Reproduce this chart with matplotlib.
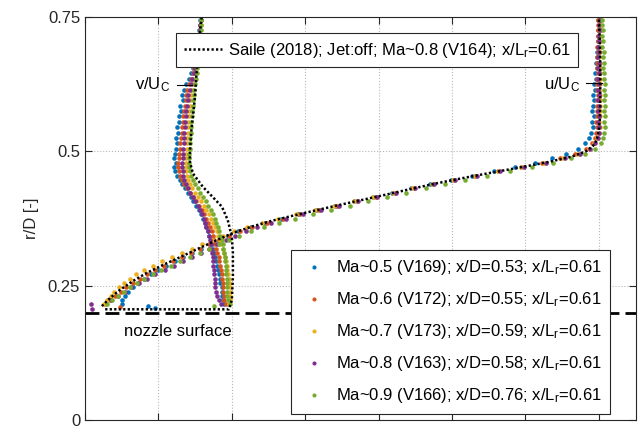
import numpy as np
import matplotlib.pyplot as plt

plt.rcParams['font.family'] = ['Liberation Sans', 'DejaVu Sans']
plt.rcParams['mathtext.fontset'] = 'custom'
plt.rcParams['mathtext.rm'] = 'Liberation Sans'
plt.rcParams['mathtext.it'] = 'Liberation Sans:italic'

# radial positions of the PIV data (r/D)
r_grid = [0.215, 0.223, 0.231, 0.239, 0.247, 0.255, 0.263, 0.271, 0.279, 0.287,
          0.295, 0.303, 0.311, 0.319, 0.327, 0.335, 0.343, 0.351, 0.359, 0.367,
          0.375, 0.383, 0.391, 0.399, 0.407, 0.415, 0.423, 0.431, 0.439, 0.447,
          0.455, 0.463, 0.471, 0.479, 0.487, 0.495, 0.505, 0.515, 0.525, 0.535,
          0.545, 0.555, 0.565, 0.575, 0.585, 0.595, 0.605, 0.615, 0.625, 0.635,
          0.645, 0.655, 0.665, 0.675, 0.685, 0.695, 0.705, 0.715, 0.725, 0.735, 0.745]

# u/Uc profiles
u_ma05 = [-0.300, -0.298, -0.290, -0.282, -0.270, -0.255, -0.238, -0.220, -0.200, -0.178,
          -0.155, -0.132, -0.108, -0.084, -0.060, -0.035, -0.010, 0.018, 0.052, 0.090,
          0.133, 0.180, 0.230, 0.282, 0.334, 0.386, 0.437, 0.488, 0.540, 0.596,
          0.654, 0.714, 0.772, 0.826, 0.872, 0.910, 0.944, 0.963, 0.974, 0.980,
          0.984, 0.982, 0.986, 0.981, 0.985, 0.988, 0.984, 0.990, 0.987, 0.992,
          0.989, 0.994, 0.992, 0.996, 0.995, 0.998, 0.997, 0.999, 0.998, 1.000, 0.999]
u_ma06 = [-0.345, -0.332, -0.318, -0.303, -0.287, -0.270, -0.251, -0.231, -0.209, -0.186,
          -0.161, -0.136, -0.111, -0.086, -0.061, -0.035, -0.008, 0.022, 0.056, 0.095,
          0.139, 0.187, 0.237, 0.288, 0.340, 0.392, 0.444, 0.496, 0.549, 0.605,
          0.664, 0.726, 0.787, 0.845, 0.895, 0.935, 0.965, 0.981, 0.989, 0.992,
          0.994, 0.993, 0.995, 0.994, 0.996, 0.995, 0.997, 0.994, 0.996, 0.995,
          0.997, 0.994, 0.996, 0.995, 0.997, 0.996, 0.998, 0.997, 0.999, 0.998, 0.999]
u_ma07 = [-0.348, -0.340, -0.330, -0.320, -0.308, -0.294, -0.278, -0.260, -0.239, -0.215,
          -0.190, -0.163, -0.136, -0.109, -0.082, -0.054, -0.025, 0.006, 0.041, 0.081,
          0.126, 0.175, 0.226, 0.279, 0.332, 0.385, 0.438, 0.491, 0.545, 0.602,
          0.662, 0.725, 0.789, 0.850, 0.902, 0.942, 0.972, 0.988, 0.996, 1.000,
          1.002, 1.001, 1.003, 1.002, 1.004, 1.002, 1.003, 1.001, 1.003, 1.002,
          1.004, 1.002, 1.003, 1.001, 1.003, 1.002, 1.004, 1.003, 1.005, 1.004, 1.006]
u_ma08 = [-0.385, -0.330, -0.310, -0.292, -0.274, -0.254, -0.232, -0.208, -0.183, -0.158,
          -0.133, -0.108, -0.085, -0.062, -0.040, -0.016, 0.010, 0.038, 0.070, 0.106,
          0.147, 0.193, 0.242, 0.292, 0.343, 0.395, 0.447, 0.499, 0.552, 0.609,
          0.669, 0.731, 0.795, 0.856, 0.908, 0.948, 0.976, 0.990, 0.997, 1.000,
          1.001, 0.999, 1.001, 0.998, 1.000, 0.999, 1.001, 0.998, 1.000, 0.999,
          1.001, 0.999, 1.000, 0.998, 1.000, 0.999, 1.001, 1.000, 1.002, 1.001, 1.003]
u_ma09 = [-0.340, -0.326, -0.310, -0.294, -0.277, -0.258, -0.238, -0.216, -0.192, -0.166,
          -0.140, -0.113, -0.087, -0.061, -0.035, -0.008, 0.020, 0.052, 0.088, 0.128,
          0.172, 0.220, 0.270, 0.321, 0.372, 0.424, 0.476, 0.528, 0.580, 0.636,
          0.695, 0.757, 0.819, 0.876, 0.924, 0.962, 0.990, 1.005, 1.012, 1.015,
          1.016, 1.015, 1.018, 1.014, 1.017, 1.015, 1.018, 1.014, 1.016, 1.013,
          1.015, 1.012, 1.014, 1.011, 1.013, 1.010, 1.012, 1.009, 1.011, 1.008, 1.010]

# v/Uc profiles
v_ma05 = [-0.020, -0.024, -0.026, -0.028, -0.028, -0.031, -0.033, -0.036, -0.038, -0.041,
          -0.044, -0.046, -0.048, -0.051, -0.054, -0.058, -0.062, -0.065, -0.069, -0.074,
          -0.079, -0.084, -0.090, -0.098, -0.105, -0.112, -0.120, -0.128, -0.136, -0.142,
          -0.150, -0.155, -0.157, -0.152, -0.158, -0.155, -0.152, -0.150, -0.152, -0.147,
          -0.149, -0.143, -0.145, -0.139, -0.141, -0.134, -0.137, -0.130, -0.125, -0.117,
          -0.111, -0.106, -0.102, -0.099, -0.096, -0.094, -0.092, -0.090, -0.089, -0.087, -0.086]
v_ma06 = [-0.015, -0.020, -0.022, -0.023, -0.024, -0.025, -0.026, -0.028, -0.030, -0.032,
          -0.034, -0.036, -0.039, -0.042, -0.045, -0.048, -0.052, -0.055, -0.059, -0.064,
          -0.069, -0.075, -0.082, -0.089, -0.097, -0.105, -0.113, -0.121, -0.129, -0.136,
          -0.141, -0.145, -0.147, -0.147, -0.145, -0.143, -0.142, -0.140, -0.139, -0.137,
          -0.136, -0.134, -0.132, -0.130, -0.128, -0.126, -0.124, -0.121, -0.117, -0.112,
          -0.107, -0.103, -0.099, -0.096, -0.094, -0.092, -0.090, -0.088, -0.087, -0.086, -0.085]
v_ma07 = [-0.008, -0.006, -0.005, -0.005, -0.006, -0.007, -0.008, -0.010, -0.012, -0.014,
          -0.016, -0.019, -0.022, -0.025, -0.029, -0.033, -0.037, -0.041, -0.046, -0.051,
          -0.057, -0.063, -0.070, -0.077, -0.085, -0.093, -0.101, -0.108, -0.114, -0.119,
          -0.123, -0.125, -0.126, -0.126, -0.125, -0.124, -0.123, -0.122, -0.121, -0.120,
          -0.119, -0.118, -0.117, -0.116, -0.115, -0.113, -0.111, -0.109, -0.107, -0.104,
          -0.101, -0.098, -0.096, -0.094, -0.092, -0.090, -0.088, -0.087, -0.086, -0.085, -0.083]
v_ma08 = [-0.030, -0.035, -0.040, -0.043, -0.045, -0.046, -0.047, -0.048, -0.049, -0.050,
          -0.051, -0.052, -0.054, -0.056, -0.058, -0.060, -0.063, -0.066, -0.069, -0.073,
          -0.077, -0.082, -0.087, -0.093, -0.099, -0.106, -0.113, -0.119, -0.125, -0.129,
          -0.132, -0.134, -0.135, -0.135, -0.134, -0.133, -0.132, -0.131, -0.130, -0.129,
          -0.128, -0.127, -0.126, -0.124, -0.122, -0.120, -0.118, -0.115, -0.112, -0.108,
          -0.104, -0.101, -0.098, -0.096, -0.094, -0.092, -0.090, -0.088, -0.087, -0.086, -0.085]
v_ma09 = [-0.005, -0.010, -0.012, -0.013, -0.013, -0.014, -0.014, -0.015, -0.016, -0.017,
          -0.018, -0.019, -0.021, -0.023, -0.025, -0.028, -0.031, -0.034, -0.038, -0.042,
          -0.047, -0.052, -0.058, -0.064, -0.071, -0.078, -0.086, -0.093, -0.100, -0.106,
          -0.111, -0.114, -0.116, -0.117, -0.117, -0.116, -0.115, -0.114, -0.113, -0.112,
          -0.111, -0.110, -0.109, -0.108, -0.107, -0.106, -0.104, -0.102, -0.100, -0.098,
          -0.096, -0.094, -0.092, -0.090, -0.089, -0.088, -0.087, -0.086, -0.085, -0.084, -0.083]

# stray points close to the wall (x, r/D)
stray_x = [[-0.229, -0.210], [-0.305], [], [-0.381], [-0.049]]
stray_r = [[0.212, 0.208], [0.210], [], [0.207], [0.212]]

# Saile (2018), jet off
saile_u_r = [0.212, 0.225, 0.242, 0.260, 0.274, 0.290, 0.303, 0.320, 0.335, 0.348,
             0.360, 0.370, 0.380, 0.390, 0.400, 0.410, 0.420, 0.430, 0.440, 0.450,
             0.460, 0.470, 0.480, 0.490, 0.500, 0.510, 0.520, 0.540, 0.560, 0.600,
             0.650, 0.700, 0.750]
saile_u_x = [-0.354, -0.335, -0.305, -0.266, -0.231, -0.183, -0.141, -0.088, -0.040, 0.003,
             0.055, 0.105, 0.165, 0.228, 0.292, 0.358, 0.424, 0.488, 0.555, 0.628,
             0.705, 0.785, 0.862, 0.925, 0.965, 0.984, 0.994, 1.000, 1.003, 1.004,
             1.004, 1.003, 1.000]
saile_v_r = [0.206, 0.206, 0.223, 0.267, 0.311, 0.341, 0.372, 0.397, 0.415, 0.434,
             0.459, 0.480, 0.502, 0.540, 0.596, 0.657, 0.700, 0.750]
saile_v_x = [-0.345, -0.008, 0.000, 0.003, 0.003, 0.000, -0.011, -0.027, -0.052, -0.079,
             -0.106, -0.114, -0.114, -0.110, -0.101, -0.095, -0.091, -0.082]

labels = ['Ma~0.5 (V169); x/D=0.53; $\\mathregular{x/L_r}$=0.61',
          'Ma~0.6 (V172); x/D=0.55; $\\mathregular{x/L_r}$=0.61',
          'Ma~0.7 (V173); x/D=0.59; $\\mathregular{x/L_r}$=0.61',
          'Ma~0.8 (V163); x/D=0.58; $\\mathregular{x/L_r}$=0.61',
          'Ma~0.9 (V166); x/D=0.76; $\\mathregular{x/L_r}$=0.61']
colors = ['#0072BD', '#D95319', '#EDB120', '#7E2F8E', '#77AC30']
u_all = [u_ma05, u_ma06, u_ma07, u_ma08, u_ma09]
v_all = [v_ma05, v_ma06, v_ma07, v_ma08, v_ma09]

fig = plt.figure(figsize=(6.38, 4.30), dpi=100)
ax = fig.add_axes([85 / 638, 10 / 430, 550.5 / 638, 403 / 430])

handles = []
for u, v, c, sx, sr in zip(u_all, v_all, colors, stray_x, stray_r):
    h, = ax.plot(u, r_grid, 'o', ms=3.3, mew=0, color=c)
    ax.plot(v, r_grid, 'o', ms=3.3, mew=0, color=c)
    ax.plot(sx, sr, 'o', ms=3.3, mew=0, color=c)
    handles.append(h)

saile, = ax.plot(saile_u_x, saile_u_r, color='k', lw=1.8, dashes=(0.9, 0.9))
ax.plot(saile_v_x, saile_v_r, color='k', lw=1.8, dashes=(0.9, 0.9))

ax.axhline(0.2, color='k', lw=2, dashes=(5, 2.2))

ax.set_xlim(-0.4, 1.1)
ax.set_ylim(0, 0.75)
ax.set_xticks(np.arange(-0.4, 1.11, 0.2))
ax.set_xticklabels([])
ax.set_yticks([0, 0.25, 0.5, 0.75])
ax.set_yticklabels(['0', '0.25', '0.5', '0.75'])
ax.tick_params(direction='in', top=True, right=True, length=5, width=0.8,
               color='#262626', labelcolor='#262626', labelsize=12)
ax.grid(True, linestyle=':', color='#b8b8b8', lw=0.8)
for s in ax.spines.values():
    s.set_color('#262626')
    s.set_linewidth(0.8)
ax.set_ylabel('r/D [-]', fontsize=12, color='#262626', labelpad=6)

ax.text(-0.146, 0.165, 'nozzle surface', fontsize=12, ha='center', va='center')
ax.text(-0.169, 0.6235, '$\\mathregular{v/U_C}$', fontsize=12, ha='right', va='center')
ax.plot([-0.150, -0.109], [0.6235, 0.6235], color='k', lw=0.8)
ax.text(0.950, 0.625, '$\\mathregular{u/U_C}$', fontsize=12, ha='right', va='center')
ax.plot([0.966, 1.010], [0.627, 0.627], color='k', lw=0.8)

leg1 = ax.legend([saile], ['Saile (2018); Jet:off; Ma~0.8 (V164); $\\mathregular{x/L_r}$=0.61'],
                 loc='upper left', bbox_to_anchor=(176 / 638, 1 - 33 / 430),
                 bbox_transform=fig.transFigure, fontsize=12, fancybox=False,
                 edgecolor='#262626', framealpha=1, handlelength=2.3,
                 handletextpad=0.35, borderpad=0.45, borderaxespad=0)
leg1.get_frame().set_linewidth(0.8)
ax.add_artist(leg1)

leg2 = ax.legend(handles, labels, loc='upper left', bbox_to_anchor=(291 / 638, 1 - 250 / 430),
                 bbox_transform=fig.transFigure, fontsize=12, fancybox=False,
                 edgecolor='#262626', framealpha=1, handlelength=1.8, numpoints=1,
                 handletextpad=0.4, borderpad=0.5, labelspacing=0.78, borderaxespad=0,
                 markerscale=0.9)
leg2.get_frame().set_linewidth(0.8)

fig.savefig('out.png', dpi=100)
